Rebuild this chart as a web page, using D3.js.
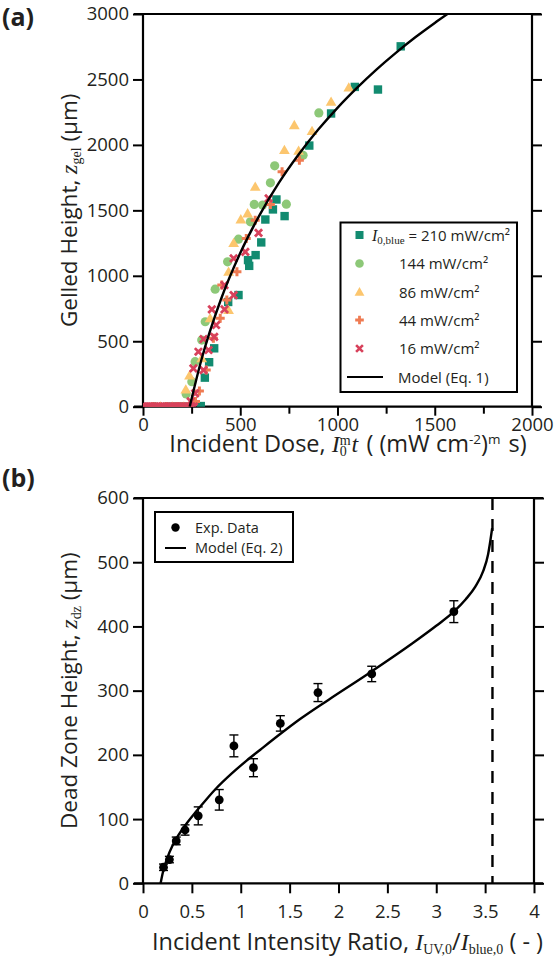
<!DOCTYPE html>
<html><head><meta charset="utf-8">
<script src="https://cdn.jsdelivr.net/npm/d3@7"></script>
<style>
body{margin:0;background:#fff;}
text{font-family:"Open Sans",sans-serif;fill:#231f20;}
</style></head>
<body><svg id="c" width="558" height="960"></svg>
<script>
// ---------- Panel (a) data: incident dose vs gelled height ----------
const sq210 = [[1325,2753],[1208,2423],[1089,2443],[967,2240],[855,1995],[728,1456],[686,1583],[668,1507],[629,1430],[608,1255],[579,1158],[540,1120],[546,1076],[491,853],[438,800],[366,446],[340,340],[318,222],[297,5],[240,0],[200,0],[150,0]];
const circ144 = [[904,2244],[823,1921],[677,1840],[655,1710],[737,1547],[572,1545],[615,1540],[552,1412],[491,1280],[435,1107],[371,898],[320,649],[302,509],[268,344],[251,191],[222,97],[200,0],[170,0],[120,0],[60,0]];
const tri86 = [[1058,2438],[967,2328],[869,2105],[778,2150],[800,1954],[727,1960],[577,1680],[538,1476],[503,1430],[466,1250],[440,1030],[440,738],[345,675],[302,369],[239,237],[220,130],[210,0],[150,0],[90,0]];
const plus44 = [[804,1883],[715,1794],[655,1545],[577,1425],[531,1285],[483,1030],[431,815],[405,929],[397,675],[362,522],[325,280],[290,120],[270,40],[230,0],[180,0],[120,0],[50,0]];
const cross16 = [[646,1591],[594,1328],[526,1183],[466,1133],[466,853],[419,929],[419,743],[354,743],[376,624],[366,534],[311,517],[337,433],[285,420],[259,293],[311,280],[268,102],[245,40],
  [0,0],[10,0],[20,0],[30,0],[40,0],[50,0],[60,0],[70,0],[80,0],[90,0],[100,0],[110,0],[120,0],[130,0],[140,0],[150,0],[160,0],[170,0],[180,0],[190,0],[200,0],[210,0],[220,0],[230,0],[250,0],[262,0]];
const modelA_dose = [240,300,400,500,600,700,800,900,1000,1100,1200,1300,1400,1500,1575];
const modelA_z    = [0,357,817,1174,1466,1713,1926,2115,2283,2435,2575,2703,2822,2932,3010];
const xTicksA = [0,500,1000,1500,2000];
const xMinorA = [250,750,1250,1750];
const yTicksA = [0,500,1000,1500,2000,2500,3000];
const legendA = ["= 210 mW/cm\u00B2","144 mW/cm\u00B2","86 mW/cm\u00B2","44 mW/cm\u00B2","16 mW/cm\u00B2","Model (Eq. 1)"];

// ---------- Panel (b) data: intensity ratio vs dead zone height ----------
const ratioB = [0.21,0.27,0.34,0.43,0.565,0.78,0.93,1.13,1.405,1.79,2.34,3.18];
const zdzB   = [25,37,66,83,105,130,214,180,249,297,326,423];
const errB   = [5,5,6,8,14,16,17,14,12,14,12,17];
const modelB_ratio = [0.18,0.2,0.25,0.3,0.35,0.45,0.55,0.65,0.75,0.9,1.06,1.2,1.4,1.6,1.9,2.3,2.75,3.0,3.18,3.3,3.4,3.48,3.53,3.555,3.572];
const modelB_z     = [0,15,40,58,72,94,113,131,148,170,191,208,232,255,286,326,373,401,423,442,462,486,512,535,553];
const asymptoteB = 3.575;
const xTicksB = [0,0.5,1,1.5,2,2.5,3,3.5,4];
const yTicksB = [0,100,200,300,400,500,600];

const col = {sq:"#128b70", ci:"#8dc878", tr:"#fcc66e", pl:"#ef7b52", cr:"#d8415b"};
const svg = d3.select("#c");
const defs = svg.append("defs");
const FS = 18.5, TFS = 22.5, XTFS = 23.5;
const serif = "'Liberation Serif',serif";

function styleAxis(a){
  a.select(".domain").remove();
  a.selectAll(".tick line").attr("stroke","#000").attr("stroke-width",2);
  a.selectAll("text").style("font-family","'Open Sans',sans-serif").style("font-size",FS+"px").attr("fill","#231f20");
}
function frame(g, x, y, ext){
  const L=x.range()[0], R=x.range()[1], T=y.range()[1], B=y.range()[0];
  g.append("line").attr("x1",L-ext).attr("x2",R+ext).attr("y1",T).attr("y2",T);
  g.append("line").attr("x1",L-ext).attr("x2",R+ext).attr("y1",B).attr("y2",B);
  g.append("line").attr("x1",L).attr("x2",L).attr("y1",T).attr("y2",B);
  g.append("line").attr("x1",R).attr("x2",R).attr("y1",T).attr("y2",B);
  g.selectAll("line").attr("stroke","#000").attr("stroke-width",2.2);
}
function addVar(t, main, sub, sup){
  t.append("tspan").text(main).style("font-family",serif).style("font-style","italic").style("font-size","24px");
  if(sub) t.append("tspan").text(sub).attr("dy",4).style("font-family",serif).style("font-size","14px");
  if(sup) t.append("tspan").text(sup).attr("dx",-7).attr("dy",-11).style("font-family",serif).style("font-size","14px");
  return t;
}

// ===== Panel (a) =====
const xA = d3.scaleLinear().domain([0,2000]).range([143,532]);
const yA = d3.scaleLinear().domain([0,3000]).range([406.7,14]);
const gA = svg.append("g");
const L=xA.range()[0], R=xA.range()[1], T=yA.range()[1], B=yA.range()[0];
defs.append("clipPath").attr("id","clipA").append("rect")
  .attr("x",L).attr("y",T).attr("width",R-L).attr("height",B-T);

const axBA = gA.append("g").attr("transform",`translate(0,${B})`)
  .call(d3.axisBottom(xA).tickValues(xTicksA).tickSize(9).tickSizeOuter(0).tickPadding(2).tickFormat(d3.format("d")));
const axBmA = gA.append("g").attr("transform",`translate(0,${B})`)
  .call(d3.axisBottom(xA).tickValues(xMinorA).tickSize(7).tickSizeOuter(0).tickFormat(""));
const axLA = gA.append("g").attr("transform",`translate(${L},0)`)
  .call(d3.axisLeft(yA).tickValues(yTicksA).tickSize(10).tickSizeOuter(0).tickPadding(4).tickFormat(d3.format("d")));
const axRA = gA.append("g").attr("transform",`translate(${R},0)`)
  .call(d3.axisRight(yA).tickValues(yTicksA).tickSize(10).tickSizeOuter(0).tickFormat(""));
[axBA,axBmA,axLA,axRA].forEach(styleAxis);
frame(gA.append("g"), xA, yA, 9);

const pA = gA.append("g").attr("clip-path","url(#clipA)");
pA.selectAll(null).data(sq210).join("rect")
  .attr("x",d=>xA(d[0])-4.2).attr("y",d=>yA(d[1])-4.2).attr("width",8.4).attr("height",8.4).attr("fill",col.sq);
pA.selectAll(null).data(circ144).join("circle")
  .attr("cx",d=>xA(d[0])).attr("cy",d=>yA(d[1])).attr("r",4.6).attr("fill",col.ci);
const triSym = d3.symbol().type(d3.symbolTriangle).size(50);
pA.selectAll(null).data(tri86).join("path").attr("d",triSym)
  .attr("transform",d=>`translate(${xA(d[0])},${yA(d[1])+0.8})`).attr("fill",col.tr);
pA.selectAll(null).data(plus44).join("path").attr("d","M-4.5,0H4.5M0,-4.5V4.5")
  .attr("transform",d=>`translate(${xA(d[0])},${yA(d[1])})`).attr("stroke",col.pl).attr("stroke-width",3).attr("fill","none");
pA.selectAll(null).data(cross16).join("path").attr("d","M-3.6,-3.6L3.6,3.6M-3.6,3.6L3.6,-3.6")
  .attr("transform",d=>`translate(${xA(d[0])},${yA(d[1])})`).attr("stroke",col.cr).attr("stroke-width",2.8).attr("fill","none");

const lineA = d3.line().x(d=>xA(d[0])).y(d=>yA(d[1])).curve(d3.curveMonotoneX);
pA.append("path").datum(modelA_dose.map((d,i)=>[d,modelA_z[i]]))
  .attr("d",lineA).attr("fill","none").attr("stroke","#000").attr("stroke-width",2.4);

// legend (a)
const lg = gA.append("g");
lg.append("rect").attr("x",340.5).attr("y",222.5).attr("width",176.5).attr("height",169.5)
  .attr("fill","#fff").attr("stroke","#000").attr("stroke-width",2);
const rowY = [235,263.5,292,320,348.5,377];
const mx = 359.5;
lg.append("rect").attr("x",mx-4).attr("y",rowY[0]-4).attr("width",8).attr("height",8).attr("fill",col.sq);
lg.append("circle").attr("cx",mx).attr("cy",rowY[1]).attr("r",4.3).attr("fill",col.ci);
lg.append("path").attr("d",d3.symbol().type(d3.symbolTriangle).size(42)).attr("transform",`translate(${mx},${rowY[2]+0.8})`).attr("fill",col.tr);
lg.append("path").attr("d","M-4.3,0H4.3M0,-4.3V4.3").attr("transform",`translate(${mx},${rowY[3]})`).attr("stroke",col.pl).attr("stroke-width",2.8);
lg.append("path").attr("d","M-3.4,-3.4L3.4,3.4M-3.4,3.4L3.4,-3.4").attr("transform",`translate(${mx},${rowY[4]})`).attr("stroke",col.cr).attr("stroke-width",2.6);
lg.append("line").attr("x1",347).attr("x2",383).attr("y1",rowY[5]).attr("y2",rowY[5]).attr("stroke","#000").attr("stroke-width",2.2);
const t0 = lg.append("text").attr("x",372).attr("y",rowY[0]+5.5).style("font-size","15px");
t0.append("tspan").text("I").style("font-family",serif).style("font-style","italic").style("font-size","16px");
t0.append("tspan").text("0,blue").attr("dy",3).style("font-family",serif).style("font-size","11px");
t0.append("tspan").text(" "+legendA[0]).attr("dy",-3);
for(let i=1;i<6;i++){
  lg.append("text").attr("x",i===5?398:399).attr("y",rowY[i]+5.5).style("font-size","15px").text(legendA[i]);
}

// axis titles (a)
const xtA = gA.append("text").attr("x",348).attr("y",452).attr("text-anchor","middle").style("font-size",XTFS+"px");
xtA.append("tspan").text("Incident Dose, ");
addVar(xtA,"I","0","m");
xtA.append("tspan").text("t").attr("dx",1).attr("dy",7).style("font-family",serif).style("font-style","italic").style("font-size","24px");
xtA.append("tspan").text(" ( (mW cm").attr("dx",2);
xtA.append("tspan").text("-2").attr("dy",-8).style("font-size","13.5px");
xtA.append("tspan").text(")").attr("dy",8);
xtA.append("tspan").text("m").attr("dy",-8).style("font-size","13.5px");
xtA.append("tspan").text(" s)").attr("dx",2).attr("dy",8);

const ytA = gA.append("text").attr("transform",`translate(77,${(T+B)/2}) rotate(-90)`).attr("text-anchor","middle").style("font-size",TFS+"px");
ytA.append("tspan").text("Gelled Height, ");
addVar(ytA,"z","gel");
ytA.append("tspan").text(" (\u03BCm)").attr("dy",-4);

svg.append("text").attr("x",2).attr("y",26).style("font-weight","bold").style("font-size","25px").text("(a)");

// ===== Panel (b) =====
const xB = d3.scaleLinear().domain([0,4]).range([143,534]);
const yB = d3.scaleLinear().domain([0,600]).range([883.3,498]);
const gB = svg.append("g");
const LB=xB.range()[0], RB=xB.range()[1], TB=yB.range()[1], BB=yB.range()[0];

const axBB = gB.append("g").attr("transform",`translate(0,${BB})`)
  .call(d3.axisBottom(xB).tickValues(xTicksB).tickSize(10).tickSizeOuter(0).tickPadding(12).tickFormat(d=>String(d)));
const axLB = gB.append("g").attr("transform",`translate(${LB},0)`)
  .call(d3.axisLeft(yB).tickValues(yTicksB).tickSize(10).tickSizeOuter(0).tickPadding(4).tickFormat(d3.format("d")));
const axRB = gB.append("g").attr("transform",`translate(${RB},0)`)
  .call(d3.axisRight(yB).tickValues(yTicksB).tickSize(10).tickSizeOuter(0).tickFormat(""));
[axBB,axLB,axRB].forEach(styleAxis);
frame(gB.append("g"), xB, yB, 9);

gB.append("line").attr("x1",xB(asymptoteB)).attr("x2",xB(asymptoteB)).attr("y1",yB(600)).attr("y2",yB(0))
  .attr("stroke","#000").attr("stroke-width",2.4).attr("stroke-dasharray","12,9");

const lineB = d3.line().x(d=>xB(d[0])).y(d=>yB(d[1])).curve(d3.curveMonotoneX);
gB.append("path").datum(modelB_ratio.map((d,i)=>[d,modelB_z[i]]))
  .attr("d",lineB).attr("fill","none").attr("stroke","#000").attr("stroke-width",2.4);

const ptsB = ratioB.map((d,i)=>({x:d,y:zdzB[i],e:errB[i]}));
const eb = gB.append("g").attr("stroke","#000").attr("stroke-width",1.4);
ptsB.forEach(p=>{
  const cx=xB(p.x), y1=yB(p.y+p.e), y2=yB(p.y-p.e);
  eb.append("line").attr("x1",cx).attr("x2",cx).attr("y1",y1).attr("y2",y2);
  eb.append("line").attr("x1",cx-4.5).attr("x2",cx+4.5).attr("y1",y1).attr("y2",y1);
  eb.append("line").attr("x1",cx-4.5).attr("x2",cx+4.5).attr("y1",y2).attr("y2",y2);
});
gB.append("g").selectAll("circle").data(ptsB).join("circle")
  .attr("cx",d=>xB(d.x)).attr("cy",d=>yB(d.y)).attr("r",4.4).attr("fill","#000");

// legend (b)
const lgB = gB.append("g");
lgB.append("rect").attr("x",155).attr("y",512).attr("width",138).attr("height",50)
  .attr("fill","#fff").attr("stroke","#000").attr("stroke-width",2);
lgB.append("circle").attr("cx",175.5).attr("cy",527.5).attr("r",4.2).attr("fill","#000");
lgB.append("line").attr("x1",165).attr("x2",186).attr("y1",548).attr("y2",548).attr("stroke","#000").attr("stroke-width",2);
lgB.append("text").attr("x",195).attr("y",533).style("font-size","14.5px").text("Exp. Data");
lgB.append("text").attr("x",195).attr("y",553).style("font-size","14.5px").text("Model (Eq. 2)");

// axis titles (b)
const xtB = gB.append("text").attr("x",347.5).attr("y",950).attr("text-anchor","middle").style("font-size",XTFS+"px");
xtB.append("tspan").text("Incident Intensity Ratio, ");
addVar(xtB,"I","UV,0");
xtB.append("tspan").text("/").attr("dy",-4);
addVar(xtB,"I","blue,0");
xtB.append("tspan").text(" ( - )").attr("dy",-4);

const ytB = gB.append("text").attr("transform",`translate(77,${(TB+BB)/2}) rotate(-90)`).attr("text-anchor","middle").style("font-size",TFS+"px");
ytB.append("tspan").text("Dead Zone Height, ");
addVar(ytB,"z","dz");
ytB.append("tspan").text(" (\u03BCm)").attr("dy",-4);

svg.append("text").attr("x",2).attr("y",487).style("font-weight","bold").style("font-size","25px").text("(b)");
</script></body></html>
